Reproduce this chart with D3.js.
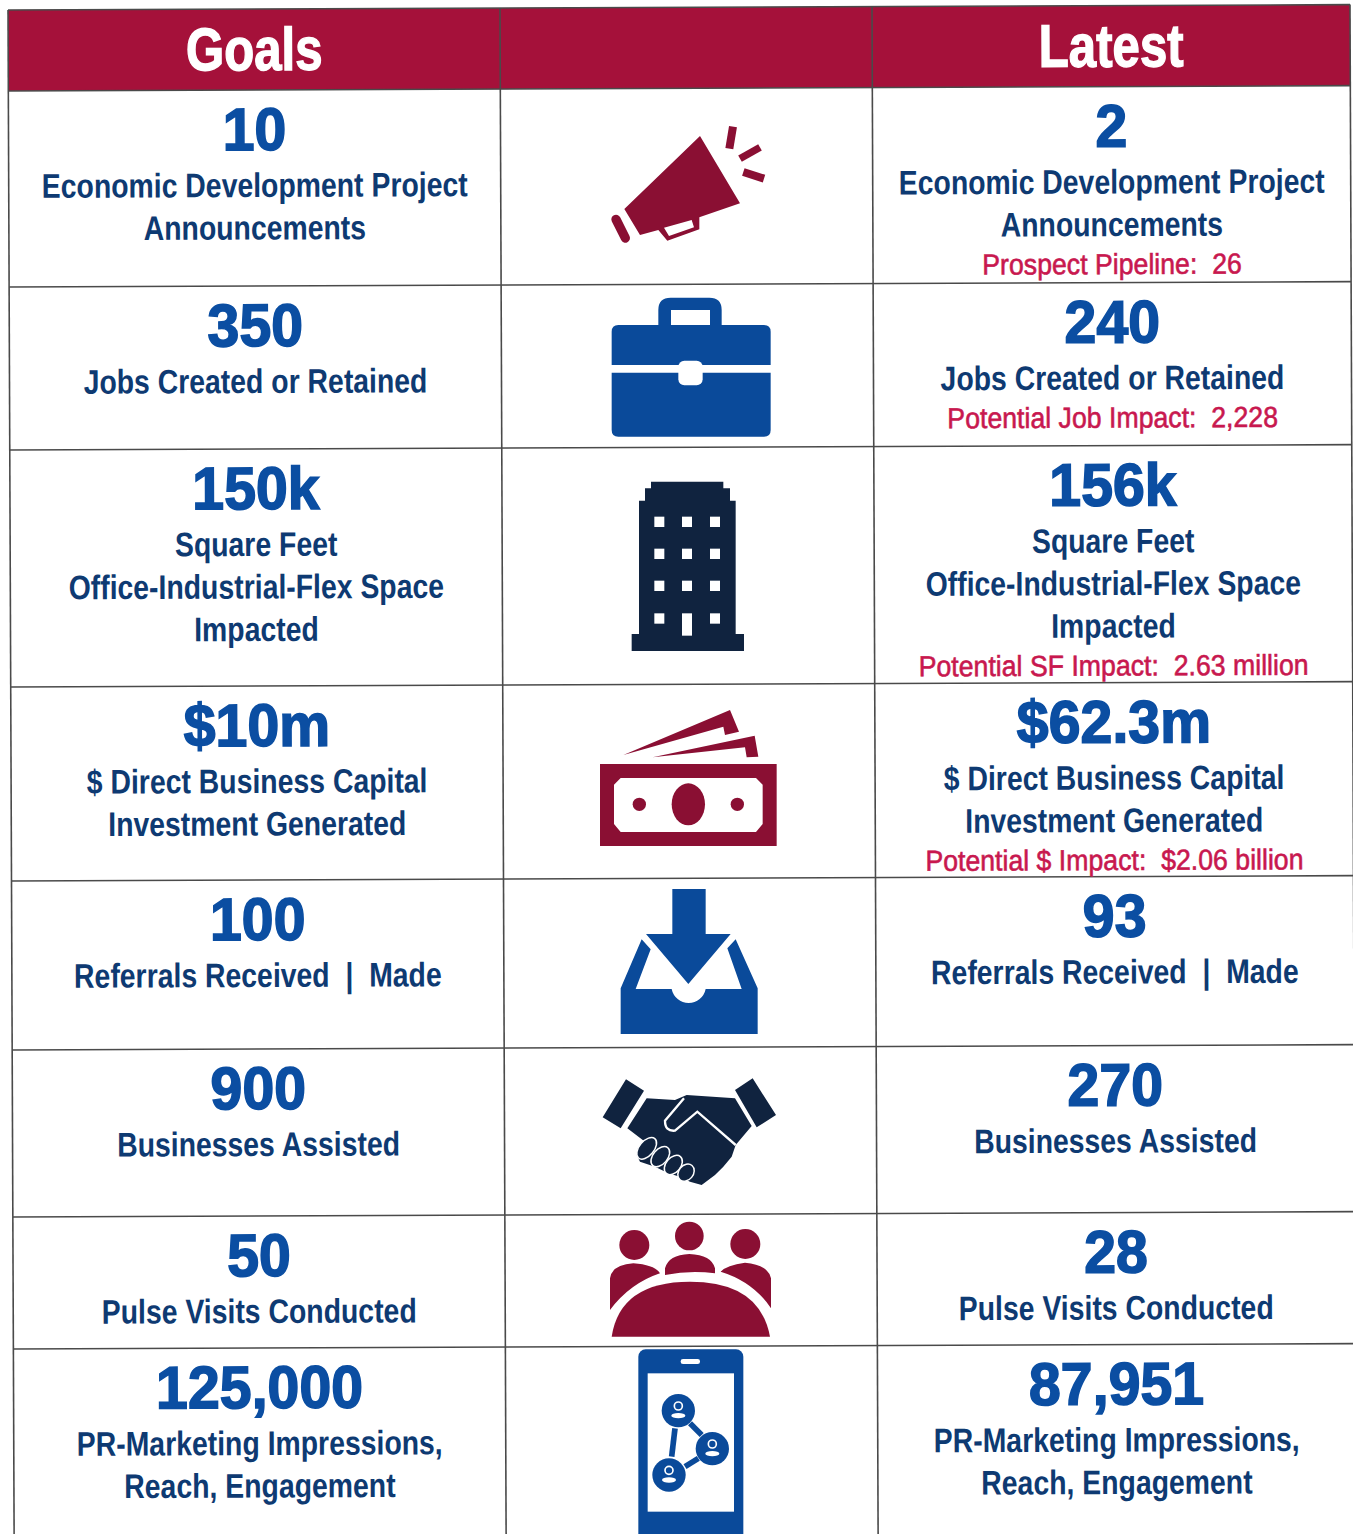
<!DOCTYPE html>
<html>
<head>
<meta charset="utf-8">
<script src="https://cdn.jsdelivr.net/npm/d3@7"></script>
<style>
  html, body { margin: 0; background: #fff; }
  svg { display: block; }
  text { font-family: "Liberation Sans", sans-serif; font-weight: bold; text-anchor: middle; white-space: pre; }
  .head { fill: #fff; stroke: #fff; stroke-width: 1.4; font-size: 60px; }
  .num { fill: #0b4ea2; stroke: #0b4ea2; stroke-width: 1.6; font-size: 60px; }
  .label { fill: #0e3a72; font-size: 34px; }
  .note { fill: #c8184f; font-size: 29px; font-weight: normal; stroke: #c8184f; stroke-width: .6; }
</style>
</head>
<body>
<svg id="container" width="1353" height="1534"></svg>
<script>
const headers = ["Goals", "", "Latest"]
const rows = ["announcements", "jobs", "sqft", "capital", "referrals", "businesses", "visits", "impressions"]
const goalValues = ["10", "350", "150k", "$10m", "100", "900", "50", "125,000"]
const latestValues = ["2", "240", "156k", "$62.3m", "93", "270", "28", "87,951"]
const labels = [
  ["Economic Development Project", "Announcements"],
  ["Jobs Created or Retained"],
  ["Square Feet", "Office-Industrial-Flex Space", "Impacted"],
  ["$ Direct Business Capital", "Investment Generated"],
  ["Referrals Received  |  Made"],
  ["Businesses Assisted"],
  ["Pulse Visits Conducted"],
  ["PR-Marketing Impressions,", "Reach, Engagement"]
]
const notes = ["Prospect Pipeline:  26", "Potential Job Impact:  2,228", "Potential SF Impact:  2.63 million",
  "Potential $ Impact:  $2.06 billion", "", "", "", ""]

// Layout
const colEdges = [8, 500, 872, 1350]
const rowEdges = [91, 287, 450, 687, 881, 1050, 1217, 1349]
const tableTop = 10
const tableBottom = 1600
const tilt = -0.23 // the page was scanned slightly crooked
// No condensed face is installed, so the text gets squeezed sideways instead
const headStretch = 0.82
const numStretch = 0.955
const labelStretch = 0.835
const noteStretch = 0.92

const maroon = "#8a0f33"
const blue = "#0a4a9a"
const navy = "#10233f"

const container = d3.select("#container")
const table = container.append("g").attr("transform", `rotate(${tilt}, ${colEdges[0]}, ${tableTop})`)

const rowY = d3.scaleOrdinal().domain(rows).range(rowEdges)
const colCenter = i => (colEdges[i] + colEdges[i + 1]) / 2
const squeeze = (x, y, k) => `translate(${x}, ${y}) scale(${k}, 1)`

// header band
table.append("rect")
  .attr("x", colEdges[0]).attr("y", tableTop)
  .attr("width", colEdges[3] - colEdges[0]).attr("height", rowEdges[0] - tableTop)
  .attr("fill", "#a5113a")

// grid
table.selectAll(".rowLine").data([tableTop].concat(rowEdges)).join("line")
  .attr("x1", colEdges[0]).attr("x2", colEdges[3])
  .attr("y1", d => d).attr("y2", d => d)
  .attr("stroke", "#4a4a4a").attr("stroke-width", 1.6)
table.selectAll(".colLine").data(colEdges).join("line")
  .attr("x1", d => d).attr("x2", d => d)
  .attr("y1", tableTop).attr("y2", tableBottom)
  .attr("stroke", "#4a4a4a").attr("stroke-width", 1.6)

table.selectAll(".head").data(headers).join("text")
  .attr("class", "head")
  .attr("transform", (d, i) => squeeze(colCenter(i), 71, headStretch))
  .text(d => d)

function drawColumn(values, col, withNotes){
  const cells = table.selectAll(".cell" + col).data(rows).join("g")
    .attr("class", "cell" + col)
    .attr("transform", d => `translate(${colCenter(col)}, ${rowY(d)})`)

  cells.append("text").attr("class", "num")
    .attr("transform", squeeze(0, 60, numStretch))
    .text((d, i) => values[i])

  cells.each(function(d, i){
    const cell = d3.select(this)
    labels[i].forEach((line, n) => {
      cell.append("text").attr("class", "label")
        .attr("transform", squeeze(0, 107 + n * 42.5, labelStretch))
        .text(line)
    })
    if(withNotes && notes[i]){
      cell.append("text").attr("class", "note")
        .attr("transform", squeeze(0, 107 + (labels[i].length - 1) * 42.5 + 38, noteStretch))
        .text(notes[i])
    }
  })
}

drawColumn(goalValues, 0, false)
drawColumn(latestValues, 2, true)

// Icons are traced in the pixels of a 3x crop, so each one scales back by a third
const icons = container.append("g")
function icon(x, y){
  return icons.append("g").attr("transform", `translate(${x}, ${y}) scale(${1 / 3})`)
}

// megaphone
const horn = icon(590, 110).attr("fill", maroon)
horn.append("path").attr("fill-rule", "evenodd")
  .attr("d", "M330,78 L450,280 L328,322 L328,358 L232,392 L205,360 L150,375 L103,297 Z M222,353 L305,330 L312,352 L237,378 Z")
horn.selectAll("line").data([[78, 328, 106, 384, 28, "round"], [429, 50, 418, 116, 24, "butt"], [510, 112, 450, 146, 22, "butt"], [460, 186, 522, 206, 24, "butt"]]).join("line")
  .attr("x1", d => d[0]).attr("y1", d => d[1]).attr("x2", d => d[2]).attr("y2", d => d[3])
  .attr("stroke", maroon).attr("stroke-width", d => d[4]).attr("stroke-linecap", d => d[5])

// briefcase
const brief = icon(590, 110).attr("fill", blue)
brief.append("path").attr("fill-rule", "evenodd")
  .attr("d", "M205,645 V600 Q205,563 242,563 H358 Q395,563 395,600 V645 H360 V600 H243 V645 Z")
brief.append("path").attr("d", "M85,645 H522 Q542,645 542,665 V765 H65 V665 Q65,645 85,645 Z")
brief.append("path").attr("d", "M65,788 H542 V960 Q542,980 522,980 H85 Q65,980 65,960 Z")
brief.append("rect").attr("x", 265).attr("y", 752).attr("width", 73).attr("height", 74).attr("rx", 18).attr("fill", "#fff")

// building
const tower = icon(590, 470).attr("fill", navy)
tower.append("path").attr("d", "M183,35 H400 V55 H420 V92 H437 V492 H462 V543 H125 V492 H147 V92 H165 V55 H183 Z")
const windowX = [193, 276, 360]
const windowY = [140, 236, 332, 430]
windowY.forEach((wy, r) => windowX.forEach((wx, c) => {
  tower.append("rect").attr("x", wx).attr("y", wy).attr("width", 30)
    .attr("height", r === 3 && c === 1 ? 67 : 31).attr("fill", "#fff")
}))

// money
const money = icon(590, 470).attr("fill", maroon)
money.append("path").attr("d", "M100,855 L420,720 L447,785 L405,795 L400,770 Z M188,862 L494,797 L505,860 L470,862 L465,832 Z")
money.append("path").attr("fill-rule", "evenodd")
  .attr("d", "M30,882 H560 V1128 H30 Z M92,924 H498 L518,944 V1062 L498,1086 H92 L72,1062 V944 Z")
money.append("ellipse").attr("cx", 295).attr("cy", 1003).attr("rx", 50).attr("ry", 63)
money.selectAll("circle").data([148, 442]).join("circle").attr("cx", d => d).attr("cy", 1003).attr("r", 20)

// inbox
const inbox = icon(590, 880).attr("fill", blue)
inbox.append("path").attr("d", "M247,27 H347 V162 H422 L295,312 L168,162 H247 Z")
inbox.append("path").attr("d", "M92,325 L155,178 L182,208 L137,327 H245 A52,52 0 0 0 347,327 H455 L412,205 L437,178 L503,325 V462 H92 Z")

// handshake
const shake = icon(590, 880).attr("fill", navy)
shake.append("path").attr("d", "M108,598 L162,632 L92,745 L38,712 Z M488,595 L558,705 L500,742 L435,630 Z")
shake.append("path").attr("d", "M170,655 L255,660 L290,645 L435,655 L485,738 L437,795 L425,830 L400,860 L375,885 L335,915 L300,905 L270,890 L235,880 L195,860 L150,845 L140,825 L165,785 L112,745 Z")
shake.append("path").attr("fill", "none").attr("stroke", "#fff").attr("stroke-width", 7)
  .attr("d", "M437,795 L322,695 L255,752 Q225,755 225,722 L282,655")
shake.selectAll("ellipse").data([[170, 805, 38], [211, 830, 35], [250, 855, 33], [288, 878, 28]]).join("ellipse")
  .attr("rx", d => d[2]).attr("ry", 22)
  .attr("transform", d => `translate(${d[0]}, ${d[1]}) rotate(-50)`)
  .attr("stroke", "#fff").attr("stroke-width", 4.5)

// meeting
const meeting = icon(590, 1210).attr("fill", maroon)
meeting.selectAll("circle").data([[133, 105, 45], [298, 78, 43], [466, 102, 45]]).join("circle")
  .attr("cx", d => d[0]).attr("cy", d => d[1]).attr("r", d => d[2])
meeting.append("path").attr("d", "M225,195 V175 Q235,135 298,132 Q365,135 375,175 V190 Q300,180 225,195 Z")
meeting.append("path").attr("d", "M60,300 V205 Q65,165 130,160 Q195,165 210,190 Q120,220 60,300 Z")
meeting.append("path").attr("d", "M543,295 V205 Q535,165 465,158 Q410,165 392,185 Q490,215 543,295 Z")
meeting.append("path").attr("d", "M65,380 Q90,215 300,215 Q510,215 540,380 Z")

// phone
const phone = icon(590, 1210).attr("fill", blue)
phone.append("rect").attr("x", 145).attr("y", 418).attr("width", 315).attr("height", 575).attr("rx", 22)
phone.append("rect").attr("x", 173).attr("y", 490).attr("width", 259).attr("height", 415).attr("fill", "#fff")
phone.append("rect").attr("x", 272).attr("y", 447).attr("width", 58).attr("height", 15).attr("rx", 7).attr("fill", "#fff")
phone.selectAll("line").data([[255, 655, 245, 740], [300, 640, 335, 675], [285, 770, 325, 745]]).join("line")
  .attr("x1", d => d[0]).attr("y1", d => d[1]).attr("x2", d => d[2]).attr("y2", d => d[3])
  .attr("stroke", blue).attr("stroke-width", 17)
const people = phone.selectAll(".person").data([[265, 602], [367, 716], [237, 795]]).join("g")
  .attr("class", "person")
  .attr("transform", d => `translate(${d[0]}, ${d[1]})`)
people.append("circle").attr("r", 50)
people.append("circle").attr("cy", -14).attr("r", 12).attr("fill", "none").attr("stroke", "#fff").attr("stroke-width", 5)
people.append("ellipse").attr("cy", 15).attr("rx", 21).attr("ry", 8).attr("fill", "#fff")
</script>
</body>
</html>
